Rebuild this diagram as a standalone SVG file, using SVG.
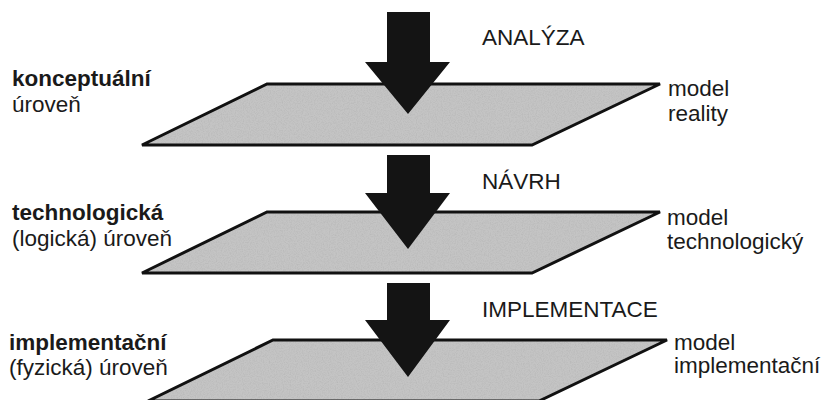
<svg xmlns="http://www.w3.org/2000/svg" width="828" height="400" viewBox="0 0 828 400">
  <defs>
    <!-- light speckle for the grey plane surfaces -->
    <filter id="grain" x="0" y="0" width="100%" height="100%">
      <feTurbulence type="fractalNoise" baseFrequency="0.85" numOctaves="2" seed="4" result="noise"/>
      <feColorMatrix in="noise" type="matrix" values="0 0 0 0 0.35  0 0 0 0 0.35  0 0 0 0 0.35  0.7 0 0 0 -0.28" result="dots"/>
      <feComposite in="dots" in2="SourceGraphic" operator="in" result="speckle"/>
      <feMerge>
        <feMergeNode in="SourceGraphic"/>
        <feMergeNode in="speckle"/>
      </feMerge>
    </filter>
  </defs>
  <style>
    .surface { fill: #c4c4c4; filter: url(#grain); }
    .edge { fill: none; stroke: #111; stroke-width: 3; stroke-linejoin: miter; }
    .arrow { fill: #141414; }
    text { font-family: "Liberation Sans", Arial, sans-serif; font-size: 22.5px; fill: #1a1a1a; }
    .b { font-weight: bold; }
  </style>
  <rect width="828" height="400" fill="#fff"/>

  <!-- level planes -->
  <g id="level-conceptual">
    <polygon class="surface" points="267,84 660,84 532,145 142,145"/>
    <polygon class="edge" points="267,84 660,84 532,145 142,145"/>
    <text class="b" x="12" y="86">konceptuální</text>
    <text x="12" y="112">úroveň</text>
    <text x="668" y="96">model</text>
    <text x="668" y="121">reality</text>
  </g>
  <g id="level-technological">
    <polygon class="surface" points="267,212 660,212 532,273 142,273"/>
    <polygon class="edge" points="267,212 660,212 532,273 142,273"/>
    <text class="b" x="12" y="220">technologická</text>
    <text x="12" y="246">(logická) úroveň</text>
    <text x="667" y="225">model</text>
    <text x="667" y="249">technologický</text>
  </g>
  <g id="level-implementation">
    <polygon class="surface" points="273,340 667,340 539,401 148,401"/>
    <polygon class="edge" points="273,340 667,340 539,401 148,401"/>
    <text class="b" x="9" y="350">implementační</text>
    <text x="9" y="375">(fyzická) úroveň</text>
    <text x="674" y="350">model</text>
    <text x="674" y="373">implementační</text>
  </g>

  <!-- downward transition arrows -->
  <g id="connectors">
    <g id="analysis">
      <polygon class="arrow" points="387,12 430,12 430,62 450,62 408,114 365,62 387,62"/>
      <text x="482" y="45">ANALÝZA</text>
    </g>
    <g id="design">
      <polygon class="arrow" points="387,155 430,155 430,193 450,193 408,249 365,193 387,193"/>
      <text x="482" y="189">NÁVRH</text>
    </g>
    <g id="implementation">
      <polygon class="arrow" points="387,283 430,283 430,320 450,320 408,377 365,320 387,320"/>
      <text x="482" y="317">IMPLEMENTACE</text>
    </g>
  </g>
</svg>
